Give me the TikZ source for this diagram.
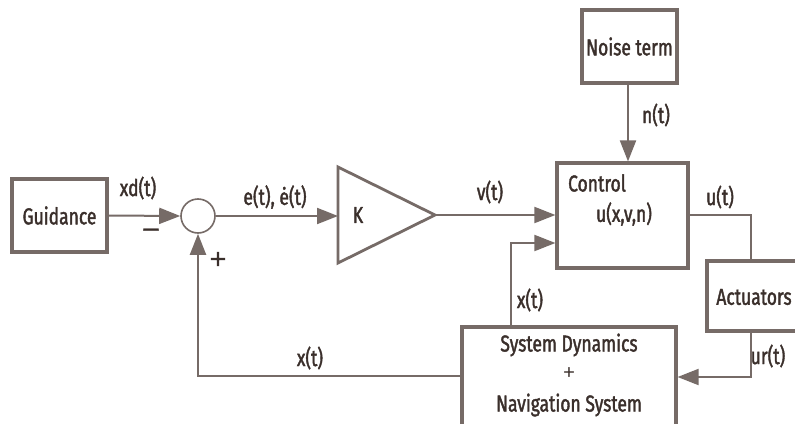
\documentclass[tikz,border=0pt]{standalone}
\usepackage{fontspec}
\setmainfont{Fira Sans}[FakeStretch=0.76,FakeBold=1.6]
\newfontfamily\symfont{DejaVu Sans}[FakeBold=1.5]
\usetikzlibrary{arrows.meta}
\definecolor{ln}{HTML}{766B67}
\definecolor{tx}{HTML}{3A2F2B}
\begin{document}
\begin{tikzpicture}[x=1pt,y=-1pt,
  every node/.style={text=tx,font=\fontsize{23}{25}\selectfont},
  blk/.style={draw=ln,line width=3.2pt,fill=white,inner sep=0pt},
  wire/.style={draw=ln,line width=2pt},
  arr/.style={wire,-{Triangle[length=21pt,width=16pt]}},
  lbl/.style={inner sep=0pt}]
\useasboundingbox (0,0) rectangle (795,423);
\clip (0,0) rectangle (795,423);
\fill[white] (0,0) rectangle (795,423);
% blocks
\node[blk,minimum width=95pt,minimum height=73pt] (guid) at (59.5,215.5) {Guidance};
\node[draw=ln,line width=1.6pt,circle,minimum size=34pt,inner sep=0pt] (sum) at (198,216) {};
\draw[ln,line width=2.8pt,line join=miter,fill=white] (338,167) -- (435,215) -- (338,263) -- cycle;
\coordinate (kin) at (338,216);
\coordinate (kout) at (435,215);
\node[lbl] (klab) at (358,215) {K};
\node[blk,minimum width=131pt,minimum height=105pt] (ctrl) at (622.5,215.5) {};
\node[lbl] (ctrlt) at (597,183) {Control};
\node[lbl] (ctrlu) at (624,214) {u(x,v,n)};
\node[blk,minimum width=95pt,minimum height=73pt] (noise) at (629.5,46.5) {Noise term};
\node[blk,minimum width=98pt,minimum height=70pt] (act) at (756,296) {};
\node[lbl] (actt) at (754,297) {Actuators};
\node[blk,minimum width=214pt,minimum height=100pt] (sys) at (569,377) {};
\node[lbl] (sys1) at (569,345) {System Dynamics};
\node[lbl] (sys2) at (569,372) {\symfont\fontsize{15}{15}\selectfont +};
\node[lbl] (sys3) at (569,405) {Navigation System};
% connectors
\draw[arr] (guid.east) -- (sum.west);
\draw[arr] (sum.east) -- (kin);
\draw[arr] (kout) -- (kout -| ctrl.west);
\draw[arr] (noise.south -| 628,0) -- (628,0 |- ctrl.north);
\coordinate (ucorner) at (751,215);
\draw[wire] (ctrl.east |- ucorner) -- (ucorner) -- (ucorner |- act.north);
\coordinate (urcorner) at (751,377);
\draw[arr] (urcorner |- act.south) -- (urcorner) -- (urcorner -| sys.east);
\coordinate (xcorner) at (511,243);
\draw[arr] (xcorner |- sys.north) -- (xcorner) -- (xcorner -| ctrl.west);
\coordinate (fbcorner) at (198,376);
\draw[arr] (fbcorner -| sys.west) -- (fbcorner) -- (sum.south);
% labels
\node[lbl] (l1) at (138,188) {xd(t)};
\node[lbl] (l2) at (151,233) {\symfont\fontsize{24}{24}\selectfont −};
\node[lbl] (l3) at (218,259) {\symfont\fontsize{22}{22}\selectfont +};
\node[lbl] (l4) at (275,197) {e(t), ė(t)};
\node[lbl] (l5) at (490,192) {v(t)};
\node[lbl] (l6) at (656,115) {n(t)};
\node[lbl] (l7) at (720,197) {u(t)};
\node[lbl] (l8) at (530,300) {x(t)};
\node[lbl] (l9) at (310,358) {x(t)};
\node[lbl] (l10) at (768,356) {ur(t)};
\end{tikzpicture}
\end{document}
